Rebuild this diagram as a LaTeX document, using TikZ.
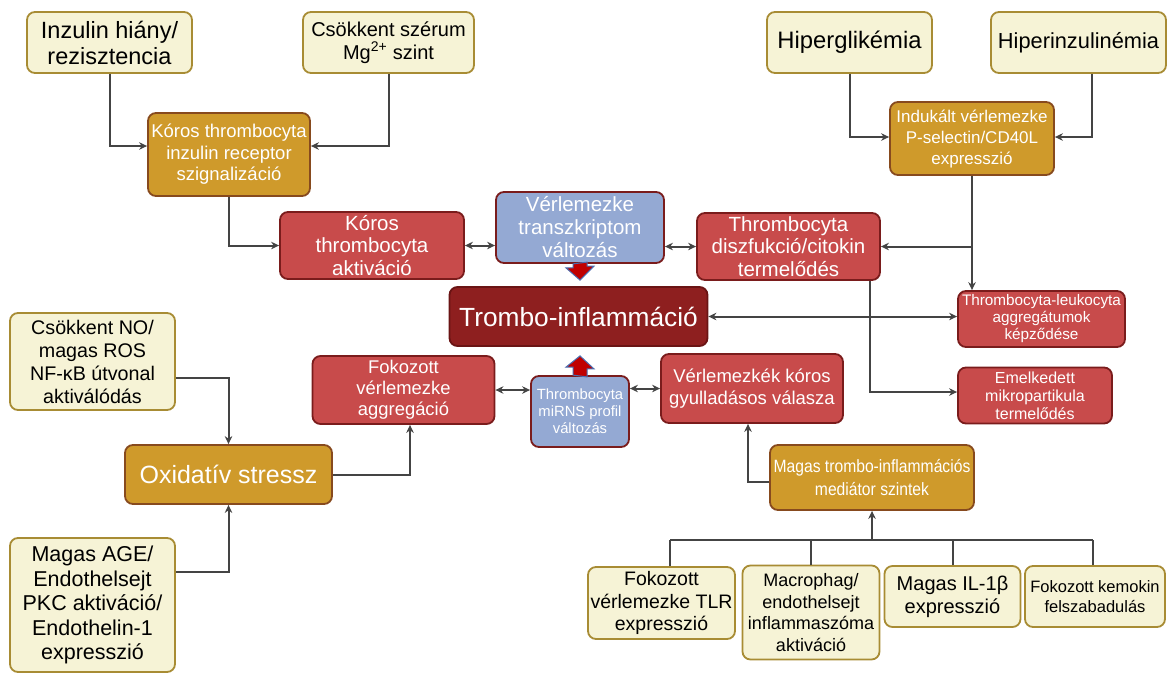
\documentclass[tikz,border=0pt]{standalone}
\usepackage{fontspec}
\setmainfont{Liberation Sans}
\newfontfamily\condfont[FakeStretch=0.88]{Liberation Sans}
\usetikzlibrary{arrows.meta,calc}
\definecolor{yfill}{HTML}{F6F3D6}
\definecolor{ydraw}{HTML}{A88C34}
\definecolor{gfill}{HTML}{CF9A2B}
\definecolor{gdraw}{HTML}{874A1E}
\definecolor{rfill}{HTML}{C84B4B}
\definecolor{rdraw}{HTML}{7A1C1C}
\definecolor{dfill}{HTML}{8E1F1F}
\definecolor{ddraw}{HTML}{6A1414}
\definecolor{bfill}{HTML}{94A9D3}
\definecolor{lgray}{HTML}{444444}
\definecolor{barred}{HTML}{C00000}
\definecolor{barblue}{HTML}{4A6CB0}
\begin{document}
\begin{tikzpicture}[x=1pt,y=-1pt,
  base/.style={rounded corners=8pt, line width=1.8pt, align=center, inner sep=0pt},
  ybox/.style={base, fill=yfill, draw=ydraw, text=black},
  gbox/.style={base, fill=gfill, draw=gdraw, text=white},
  rbox/.style={base, fill=rfill, draw=rdraw, text=white},
  bbox/.style={base, fill=bfill, draw=rdraw, text=white},
  dbox/.style={base, fill=dfill, draw=ddraw, text=white},
  ln/.style={draw=lgray, line width=2pt},
  arr/.style={ln, -{Stealth[length=8pt,width=7.5pt]}},
  darr/.style={ln, {Stealth[length=8pt,width=7.5pt]}-{Stealth[length=8pt,width=7.5pt]}},
  blockarr/.style={fill=barred, draw=barblue, line width=1pt, line join=miter}
]
\useasboundingbox (0,0) rectangle (1167,673);

% top-left
\node[ybox, minimum width=165pt, minimum height=61pt, font=\fontsize{23.5}{26}\selectfont] (inz) at (109.5,42.5) {Inzulin hiány/\\rezisztencia};
\node[ybox, minimum width=171pt, minimum height=61pt, font=\fontsize{20}{23}\selectfont] (mg) at (388.5,42.5) {Csökkent szérum\\Mg\textsuperscript{2+} szint};
\node[gbox, minimum width=162pt, minimum height=83pt, font=\fontsize{18.5}{21.5}\selectfont] (kir) at (229,154.5) {Kóros thrombocyta\\inzulin receptor\\szignalizáció};

% top-right
\node[ybox, minimum width=165pt, minimum height=61pt, font=\fontsize{23.8}{26}\selectfont] (hgl) at (849.5,42.5) {Hiperglikémia};
\node[ybox, minimum width=175pt, minimum height=61pt, font=\fontsize{21.8}{26}\selectfont] (hinz) at (1078.5,42.5) {Hiperinzulinémia};
\node[gbox, minimum width=164pt, minimum height=73pt, font=\fontsize{17}{21}\selectfont] (ind) at (972,138.5) {Indukált vérlemezke\\P-selectin/CD40L\\expresszió};

% middle row
\node[rbox, minimum width=184pt, minimum height=67pt, font=\fontsize{20.5}{22.5}\selectfont] (akt) at (372,245.5) {Kóros\\thrombocyta\\aktiváció};
\node[bbox, minimum width=168pt, minimum height=71pt, font=\fontsize{20.5}{23}\selectfont] (trx) at (580,227.5) {Vérlemezke\\transzkriptom\\változás};
\node[rbox, minimum width=183pt, minimum height=67pt, font=\fontsize{20.5}{22.5}\selectfont] (dsz) at (788.5,246.5) {Thrombocyta\\diszfukció/citokin\\termelődés};

\node[dbox, minimum width=258pt, minimum height=59pt, font=\fontsize{26.3}{30}\selectfont] (ti) at (578.5,316.5) {Trombo-inflammáció};
\node[rbox, minimum width=167pt, minimum height=56pt, font=\fontsize{15.3}{17}\selectfont] (tla) at (1041.5,319) {Thrombocyta-leukocyta\\aggregátumok\\képződése};
\node[rbox, minimum width=154pt, minimum height=56pt, font=\fontsize{16}{18}\selectfont] (emk) at (1035,395.5) {Emelkedett\\mikropartikula\\termelődés};

\node[rbox, minimum width=182pt, minimum height=68pt, font=\fontsize{18.4}{21}\selectfont] (fva) at (403.5,390) {Fokozott\\vérlemezke\\aggregáció};
\node[bbox, minimum width=98pt, minimum height=71pt, font=\fontsize{14.8}{17}\selectfont] (mir) at (580,411.5) {Thrombocyta\\miRNS profil\\változás};
\node[rbox, minimum width=182pt, minimum height=69pt, font=\fontsize{18.5}{21.5}\selectfont] (vkg) at (752,388.5) {Vérlemezkék kóros\\gyulladásos válasza};

% left
\node[ybox, minimum width=165pt, minimum height=97pt, font=\fontsize{19.7}{23}\selectfont] (no) at (92.5,361.5) {Csökkent NO/\\magas ROS\\NF-κB útvonal\\aktiválódás};
\node[gbox, minimum width=207pt, minimum height=59pt, font=\fontsize{25}{28}\selectfont] (ox) at (228.5,474.5) {Oxidatív stressz};
\node[ybox, minimum width=165pt, minimum height=134pt, font=\fontsize{21.5}{24.5}\selectfont] (age) at (92.5,605) {Magas AGE/\\Endothelsejt\\PKC aktiváció/\\Endothelin-1\\expresszió};

% bottom right
\node[gbox, minimum width=204pt, minimum height=65pt, font=\condfont\fontsize{17.8}{23}\selectfont] (mag) at (872,477.5) {Magas trombo-inflammációs\\mediátor szintek};
\node[ybox, minimum width=147pt, minimum height=72pt, font=\fontsize{19.5}{22.5}\selectfont] (tlr) at (661.5,603) {Fokozott\\vérlemezke TLR\\expresszió};
\node[ybox, minimum width=137pt, minimum height=94pt, font=\fontsize{18}{21.5}\selectfont] (mac) at (811,612.5) {Macrophag/\\endothelsejt\\inflammaszóma\\aktiváció};
\node[ybox, minimum width=136pt, minimum height=61pt, font=\fontsize{20}{23}\selectfont] (il) at (952.5,596.5) {Magas IL-1β\\expresszió};
\node[ybox, minimum width=140pt, minimum height=61pt, font=\fontsize{16.5}{20}\selectfont] (kem) at (1095,596.5) {Fokozott kemokin\\felszabadulás};

% connectors top-left
\draw[arr] (inz.south) |- ($(kir.west)+(0,-8.5)$);
\draw[arr] (mg.south) |- ($(kir.east)+(0,-8.5)$);
\draw[arr] (kir.south) |- (akt.west);

% connectors top-right
\draw[arr] (hgl.south) |- ($(ind.west)+(0,-1.5)$);
\coordinate (hz) at ($(hinz.south)+(13.5,0)$);
\draw[arr] (hz) |- ($(ind.east)+(0,-1.5)$);
\draw[arr] (ind.south) -- (ind.south |- tla.north);
\draw[arr] (ind.south |- dsz.east) -- (dsz.east);

% middle double arrows
\draw[darr] (akt.east) -- (akt.east -| trx.west);
\draw[darr] (dsz.west -| trx.east) -- (dsz.west);
\draw[darr] (ti.east) -- (ti.east -| tla.west);
\coordinate (dsb) at ($(dsz.south east)+(-11,0)$);
\draw[arr] (dsb) |- ($(emk.west)+(0,-3.5)$);
\draw[darr] (fva.east) -- (fva.east -| mir.west);
\draw[darr] (vkg.west -| mir.east) -- (vkg.west);

% left connectors
\draw[arr] ($(no.east)+(0,16.5)$) -| (ox.north);
\draw[arr] ($(age.east)+(0,-33)$) -| (ox.south);
\draw[arr] (ox.east) -| ($(fva.south)+(6.5,0)$);

% bottom right connectors
\draw[arr] ($(mag.west)+(0,4.5)$) -| ($(vkg.south)+(-4,0)$);
\coordinate (bus) at (0,540);
\coordinate (mt) at (mag.south);
\coordinate (d1) at ($(tlr.north)+(8.5,0)$);
\coordinate (d2) at (mac.north);
\coordinate (d3) at (il.north);
\coordinate (d4) at ($(kem.north)+(-2,0)$);
\draw[ln] (d1 |- bus) -- (d4 |- bus);
\draw[ln] (d1) -- (d1 |- bus);
\draw[ln] (d2) -- (d2 |- bus);
\draw[ln] (d3) -- (d3 |- bus);
\draw[ln] (d4) -- (d4 |- bus);
\draw[arr] (mt |- bus) -- (mt);

% block arrows to/from Trombo-inflammáció
\coordinate (dtip) at ($(trx.south |- ti.north)+(0,-6)$);
\filldraw[blockarr] ($(trx.south)+(-7,0)$) -- ++(0,4) -- ++(-7,0) -- (dtip) -- ++(14,-14) -- ++(-7,0) -- ++(0,-4) -- cycle;
\coordinate (utip) at ($(mir.north |- ti.south)+(0,9)$);
\filldraw[blockarr] ($(mir.north)+(-7,0)$) -- ++(0,-8) -- ++(-7,0) -- (utip) -- ++(14,13) -- ++(-7,0) -- ++(0,8) -- cycle;
\end{tikzpicture}
\end{document}
